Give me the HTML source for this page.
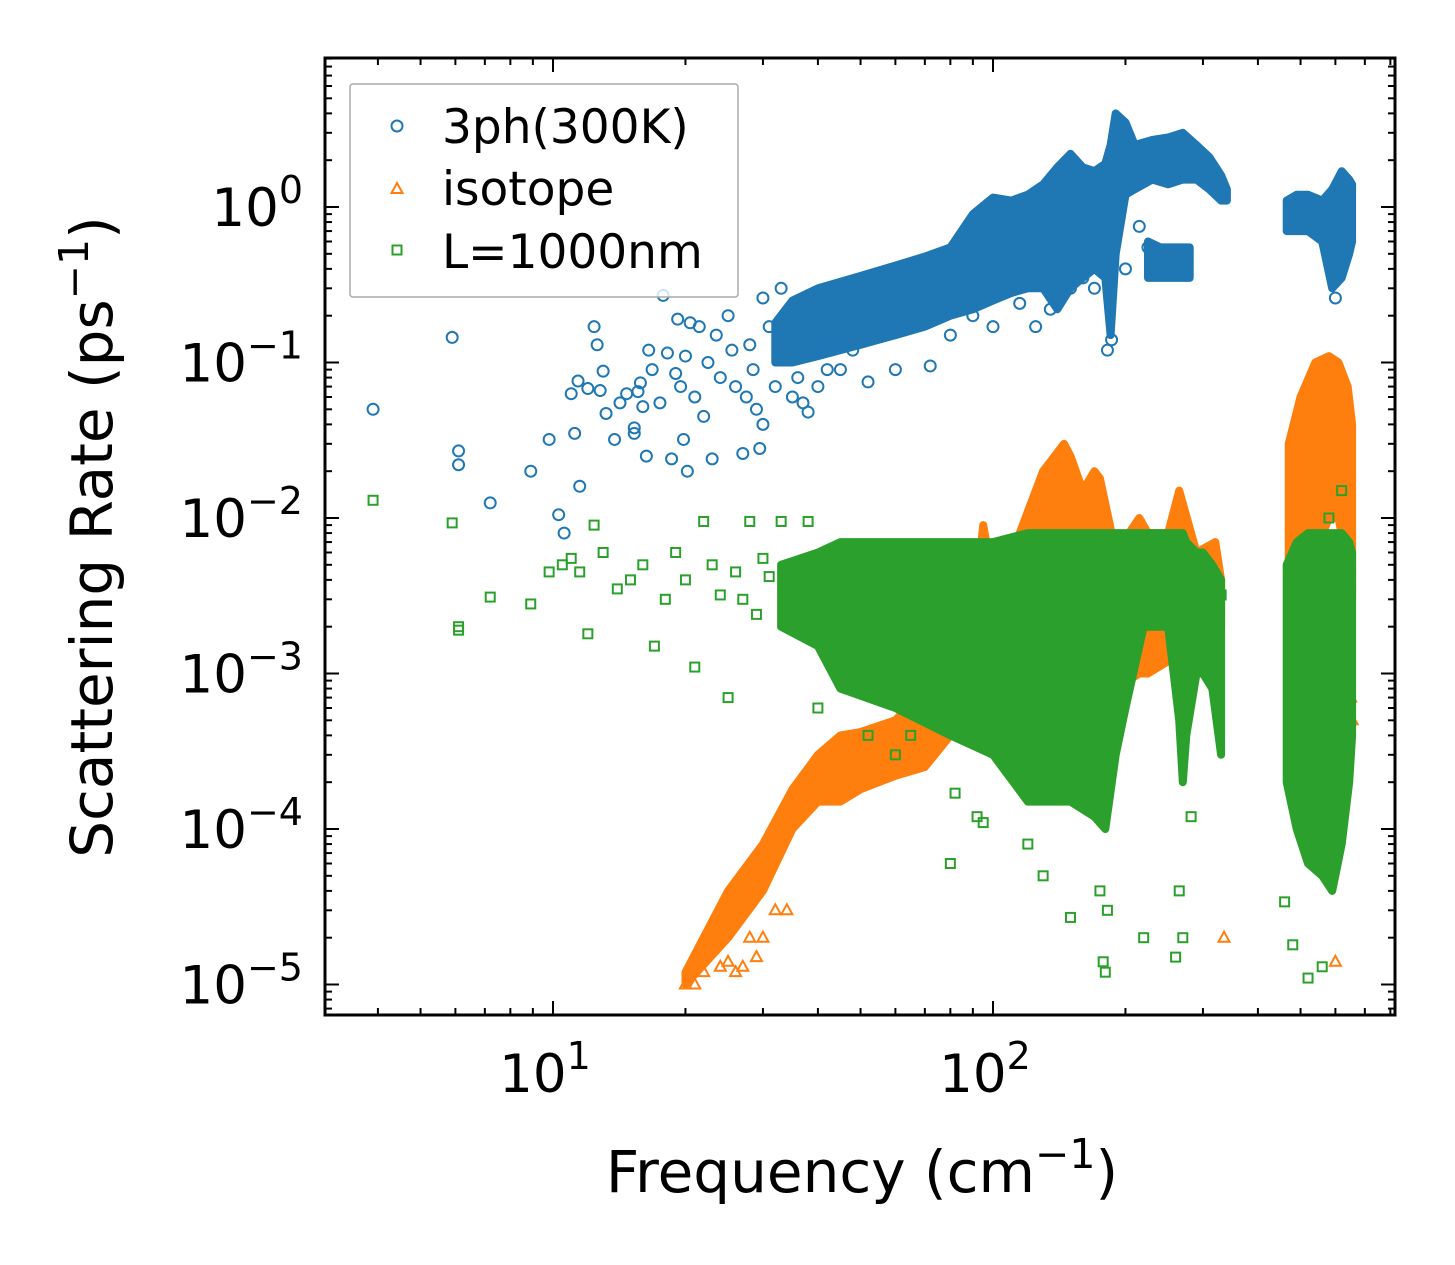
<!DOCTYPE html>
<html><head><meta charset="utf-8"><style>
html,body{margin:0;padding:0;background:#fff;}
svg{display:block;font-family:"DejaVu Sans","Liberation Sans",sans-serif;}
</style></head><body>
<svg id="chart" width="1455" height="1265" viewBox="0 0 1455 1265" xmlns="http://www.w3.org/2000/svg">
<rect width="1455" height="1265" fill="#fff"/>
<g id="marks"></g>
<g id="axes"></g>
</svg>
<script>
// ---- data ----
const blueFreq = [3.9,5.9,6.1,6.1,7.2,8.9,9.8,10.3,10.6,11.0,11.2,11.4,11.5,12,12.4,12.6,12.8,13,13.2,13.8,14.2,14.7,15.3,15.3,15.6,15.8,16,16.3,16.5,16.8,17.5,17.8,18.2,18.6,19,19.2,19.5,19.8,20,20.2,20.5,21,21.5,22,22.5,23,23.5,24,25,25.5,26,27,27.5,28,28.5,29,29.5,30,30,31,32,33,34,35,36,37,38,40,42,45,48,52,60,72,80,90,100,115,125,135,140,150,160,170,200,215,225,182,186,600,640];
const blueRate = [0.05,0.145,0.027,0.022,0.0125,0.02,0.032,0.0105,0.008,0.063,0.035,0.076,0.016,0.068,0.17,0.13,0.066,0.088,0.047,0.032,0.055,0.063,0.038,0.035,0.065,0.074,0.052,0.025,0.12,0.09,0.055,0.27,0.115,0.024,0.085,0.19,0.07,0.032,0.11,0.02,0.18,0.06,0.17,0.045,0.1,0.024,0.15,0.08,0.2,0.12,0.07,0.026,0.06,0.13,0.09,0.05,0.028,0.04,0.26,0.17,0.07,0.3,0.11,0.06,0.08,0.055,0.048,0.07,0.09,0.09,0.12,0.075,0.09,0.095,0.15,0.2,0.17,0.24,0.17,0.22,0.26,0.3,0.35,0.3,0.4,0.75,0.55,0.12,0.14,0.26,0.6];
const blueBandMainF  = [32,35,40,50,60,70,80,90,100,110,120,130,140,150,160,170,180,185,190,200,210,230,250,270,290,310,330,340];
const blueBandMainLo = [0.1,0.1,0.11,0.13,0.15,0.17,0.2,0.22,0.25,0.28,0.3,0.3,0.22,0.3,0.35,0.4,0.35,0.15,0.5,1.2,1.3,1.5,1.4,1.5,1.5,1.3,1.1,1.1];
const blueBandMainHi = [0.18,0.25,0.3,0.36,0.42,0.48,0.55,0.9,1.15,1.1,1.2,1.4,1.8,2.2,1.8,1.7,1.9,2.5,4.0,3.5,2.5,2.7,2.8,3.0,2.5,2.1,1.6,1.3];
const blueBandLowF  = [225,240,260,280];
const blueBandLowLo = [0.35,0.35,0.35,0.35];
const blueBandLowHi = [0.6,0.55,0.55,0.55];
const blueBandHighF  = [465,490,520,560,590,620,645,655];
const blueBandHighLo = [0.7,0.7,0.7,0.6,0.3,0.35,0.5,0.6];
const blueBandHighHi = [1.1,1.2,1.2,1.1,1.3,1.7,1.5,1.4];

const orangeBandF  = [20,25,30,35,40,45,50,60,70,80,90,95,100,115,130,145,150,160,170,175,190,215,225,250,265,290,320,330];
const orangeBandLo = [0.00001,0.00002,0.00004,0.0001,0.00015,0.00015,0.00018,0.00022,0.00025,0.0004,0.0005,0.0006,0.0006,0.0008,0.0008,0.001,0.001,0.001,0.0008,0.0007,0.0008,0.001,0.001,0.0012,0.0015,0.002,0.0025,0.002];
const orangeBandHi = [0.000012,0.00004,0.00008,0.00018,0.0003,0.0004,0.00042,0.0005,0.0008,0.0012,0.002,0.009,0.004,0.008,0.02,0.03,0.025,0.015,0.02,0.018,0.006,0.01,0.008,0.008,0.015,0.006,0.007,0.004];
const orangeBandHighF  = [470,500,540,580,610,640,655];
const orangeBandHighLo = [0.002,0.004,0.006,0.01,0.01,0.005,0.003];
const orangeBandHighHi = [0.03,0.06,0.1,0.11,0.1,0.07,0.04];
const orangeFreq = [20,21,22,24,25,26,27,28,29,30,32,34,335,600,650,655];
const orangeRate = [0.00001,0.00001,0.000012,0.000013,0.000014,0.000012,0.000013,0.00002,0.000015,0.00002,0.00003,0.00003,0.00002,0.000014,0.0007,0.0005];

const greenFreq = [3.9,5.9,6.1,6.1,7.2,8.9,9.8,10.5,11,11.5,12,12.4,13,14,15,16,17,18,19,20,21,22,23,24,25,26,27,28,29,30,31,33,35,38,40,45,52,60,65,80,82,92,95,120,130,150,175,178,180,182,220,260,265,270,282,330,460,480,520,560,600,580,620];
const greenRate = [0.013,0.0093,0.002,0.0019,0.0031,0.0028,0.0045,0.005,0.0055,0.0045,0.0018,0.009,0.006,0.0035,0.004,0.005,0.0015,0.003,0.006,0.004,0.0011,0.0095,0.005,0.0032,0.0007,0.0045,0.003,0.0095,0.0024,0.0055,0.0042,0.0095,0.0025,0.0095,0.0006,0.001,0.0004,0.0003,0.0004,0.00006,0.00017,0.00012,0.00011,0.00008,0.00005,0.000027,0.00004,0.000014,0.000012,0.00003,0.00002,0.000015,0.00004,0.00002,0.00012,0.0032,0.000034,0.000018,0.000011,0.000013,0.00008,0.01,0.015];
const greenBandF  = [33,40,45,60,80,100,120,150,170,180,190,200,220,250,265,270,275,290,300,315,330];
const greenBandLo = [0.002,0.0015,0.0008,0.0006,0.0004,0.0003,0.00015,0.00015,0.00012,0.0001,0.0003,0.0006,0.002,0.002,0.0005,0.0002,0.0004,0.001,0.001,0.0008,0.0003];
const greenBandHi = [0.005,0.006,0.007,0.007,0.007,0.007,0.008,0.008,0.008,0.008,0.008,0.008,0.008,0.008,0.008,0.008,0.007,0.006,0.006,0.005,0.004];
const greenBandHighF  = [465,490,520,560,590,620,645,655];
const greenBandHighLo = [0.0002,0.0001,0.00006,0.00005,0.00004,0.00008,0.0002,0.0004];
const greenBandHighHi = [0.005,0.007,0.008,0.008,0.008,0.008,0.007,0.006];

const xTickVals = [10,100];
const xTickExps = ["1","2"];
const yTickVals = [1e-5,1e-4,1e-3,1e-2,1e-1,1];
const yTickExps = ["−5","−4","−3","−2","−1","0"];

// ---- axes ----
const PL=325, PR=1395, PT=58, PB=1015;
function X(f){return 553+(Math.log10(f)-1)*440;}
function Y(r){return 207-Math.log10(r)*155.5;}
const NS="http://www.w3.org/2000/svg";
const marks=document.getElementById('marks'), axes=document.getElementById('axes');
function mk(tag,attrs,parent){const e=document.createElementNS(NS,tag);for(const k in attrs)e.setAttribute(k,attrs[k]);parent.appendChild(e);return e;}

function band(F,Lo,Hi,color,name){
  let pts=[];
  for(let i=0;i<F.length;i++)pts.push(X(F[i]).toFixed(1)+','+Y(Hi[i]).toFixed(1));
  for(let i=F.length-1;i>=0;i--)pts.push(X(F[i]).toFixed(1)+','+Y(Lo[i]).toFixed(1));
  const p=mk('polygon',{points:pts.join(' '),fill:color,stroke:color,'stroke-width':8,'stroke-linejoin':'round'},marks);
  
  
}
function circles(F,R,color,name){
  for(let i=0;i<F.length;i++){
    const c=mk('circle',{cx:X(F[i]),cy:Y(R[i]),r:5.5,fill:'none',stroke:color,'stroke-width':2},marks);
    
    
  }
}
function tris(F,R,color,name){
  for(let i=0;i<F.length;i++){
    const x=X(F[i]),y=Y(R[i]);
    const t=mk('polygon',{points:`${x},${y-6} ${x-5.5},${y+4} ${x+5.5},${y+4}`,fill:'none',stroke:color,'stroke-width':2},marks);
    
    
  }
}
function squares(F,R,color,name){
  for(let i=0;i<F.length;i++){
    const s=mk('rect',{x:X(F[i])-4.5,y:Y(R[i])-4.5,width:9,height:9,fill:'none',stroke:color,'stroke-width':2},marks);
    
    
  }
}
const BL='#1f77b4', OR='#ff7f0e', GR='#2ca02c';
band(blueBandMainF,blueBandMainLo,blueBandMainHi,BL,'3ph-dense-band');
band(blueBandLowF,blueBandLowLo,blueBandLowHi,BL,'3ph-lower-band');
band(blueBandHighF,blueBandHighLo,blueBandHighHi,BL,'3ph-high-band');
circles(blueFreq,blueRate,BL,'3ph-point');
band(orangeBandF,orangeBandLo,orangeBandHi,OR,'isotope-dense-band');
band(orangeBandHighF,orangeBandHighLo,orangeBandHighHi,OR,'isotope-high-band');
tris(orangeFreq,orangeRate,OR,'isotope-point');
band(greenBandF,greenBandLo,greenBandHi,GR,'boundary-dense-band');
band(greenBandHighF,greenBandHighLo,greenBandHighHi,GR,'boundary-high-band');
squares(greenFreq,greenRate,GR,'boundary-point');

const fr=mk('rect',{x:PL,y:PT,width:PR-PL,height:PB-PT,fill:'none',stroke:'#000','stroke-width':3},axes);


for(let d=0;d<=2;d++){for(let m=1;m<=9;m++){
  const f=m*Math.pow(10,d);const x=X(f); if(x<PL||x>PR)continue;
  const L=m===1?14:7;
  mk('line',{x1:x,y1:PB,x2:x,y2:PB-L,stroke:'#000','stroke-width':2},axes);
  mk('line',{x1:x,y1:PT,x2:x,y2:PT+L,stroke:'#000','stroke-width':2},axes);
}}
for(let i=0;i<xTickVals.length;i++){
  const t=mk('text',{x:X(xTickVals[i])-8,y:1092,'font-size':53,'text-anchor':'middle',fill:'#000'},axes);
  
  
  t.innerHTML='10<tspan dy="-23" font-size="38">'+xTickExps[i]+'</tspan>';
}
for(let d=-6;d<=0;d++){for(let m=1;m<=9;m++){
  const r=m*Math.pow(10,d);const y=Y(r); if(y<PT||y>PB)continue;
  const L=m===1?14:7;
  mk('line',{x1:PL,y1:y,x2:PL+L,y2:y,stroke:'#000','stroke-width':2},axes);
  mk('line',{x1:PR,y1:y,x2:PR-L,y2:y,stroke:'#000','stroke-width':2},axes);
}}
for(let i=0;i<yTickVals.length;i++){
  const t=mk('text',{x:303,y:Y(yTickVals[i])+19,'font-size':53,'text-anchor':'end',fill:'#000'},axes);
  
  
  t.innerHTML='10<tspan dy="-23" font-size="38">'+yTickExps[i]+'</tspan>';
}
</script>
<svg style="position:absolute;left:0;top:0" width="1455" height="1265" xmlns="http://www.w3.org/2000/svg" font-family="DejaVu Sans, Liberation Sans, sans-serif">
<text x="862" y="1192" font-size="58" text-anchor="middle">Frequency (cm<tspan dy="-24" font-size="41">−1</tspan><tspan dy="24">)</tspan></text>
<text transform="translate(112,537) rotate(-90)" font-size="58" text-anchor="middle">Scattering Rate (ps<tspan dy="-24" font-size="41">−1</tspan><tspan dy="24">)</tspan></text>
<g>
<rect x="350" y="84" width="388" height="213" fill="#fff" fill-opacity="0.8" stroke="#aaa" stroke-width="1.5" rx="3"/>
<circle cx="397" cy="126" r="5.5" fill="none" stroke="#1f77b4" stroke-width="2"/>
<text x="442" y="143" font-size="47">3ph(300K)</text>
<polygon points="397,183 391.5,193 402.5,193" fill="none" stroke="#ff7f0e" stroke-width="2"/>
<text x="442" y="205" font-size="47">isotope</text>
<rect x="392.5" y="245.5" width="9" height="9" fill="none" stroke="#2ca02c" stroke-width="2"/>
<text x="442" y="268" font-size="47">L=1000nm</text>
</g>
</svg>
</body></html>
